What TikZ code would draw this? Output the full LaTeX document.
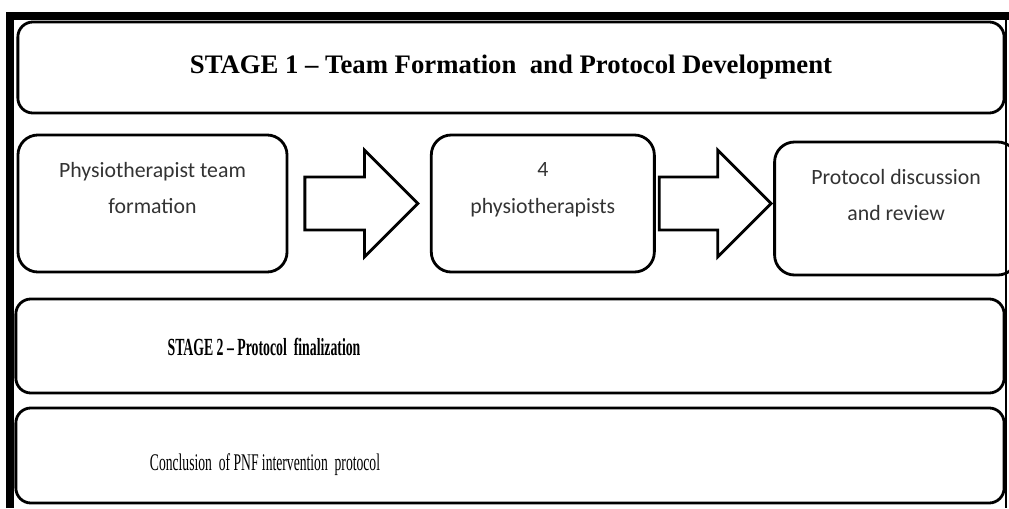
\documentclass[tikz,border=0pt]{standalone}
\usepackage{graphicx}
\usepackage{fontspec}
\setmainfont{Liberation Serif}
\newfontfamily\boxfont{Carlito}
\usetikzlibrary{positioning, shapes.arrows}

\begin{document}
\begin{tikzpicture}
	[x=0.025cm, y=-0.025cm,
	 stagebox/.style={draw, line width=2pt, rounded corners=0.375cm, minimum width=24.7cm},
	 flowbox/.style={draw, line width=2pt, rounded corners=0.5cm},
	 flowtext/.style={font=\boxfont\fontsize{15.5}{26}\selectfont, align=center, text=black!80},
	 blockarrow/.style={draw, line width=2pt, single arrow, single arrow head extend=0.675cm,
	   inner xsep=0pt, inner ysep=0.625cm}]
   \useasboundingbox (0,0) rectangle (1009,508);
   \draw[line width=0.2cm] (10,508) -- (10,16) -- (1009,16);
   \draw[line width=1.2pt] (1006,16) -- (1006,508);

   \node[stagebox, minimum width=24.65cm, minimum height=2.275cm,
         font=\bfseries\fontsize{19}{23}\selectfont] (stageone) at (511,67.5)
         {STAGE 1 -- Team Formation\ \ and Protocol Development};

   \node[flowbox, minimum width=6.725cm, minimum height=3.425cm,
         label={[flowtext, yshift=0.39cm]center:Physiotherapist team\\formation}]
         (teamform) at (152.5,203.5) {};
   \node[blockarrow, minimum height=2.825cm] (arrowa) [right=0.375cm of teamform] {};
   \node[flowbox, minimum width=5.575cm, minimum height=3.425cm,
         label={[flowtext, yshift=0.34cm]center:4\\physiotherapists}]
         (physios) [right=0.25cm of arrowa] {};
   \node[blockarrow, minimum height=2.8cm] (arrowb) [right=0.05cm of physios] {};
   \node[flowbox, minimum width=6.075cm, minimum height=3.325cm, yshift=-0.125cm,
         label={[flowtext, yshift=0.34cm]center:Protocol discussion\\and review}]
         (review) [right=0cm of arrowb] {};

   \node[stagebox, minimum height=2.35cm] (stagetwo) at (510,346) {};
   \node (stagetwo_t) at (264,347)
         {\bfseries\fontsize{17.5}{21}\selectfont\scalebox{0.56}[1]{STAGE 2 -- Protocol\ \ finalization}};

   \node[stagebox, minimum height=2.375cm] (conclusion) at (510,455.5) {};
   \node (conclusion_t) at (265,465)
         {\fontsize{17}{20}\selectfont\scalebox{0.57}[1]{Conclusion\ \ of PNF intervention\ \ protocol}};
\end{tikzpicture}
\end{document}
